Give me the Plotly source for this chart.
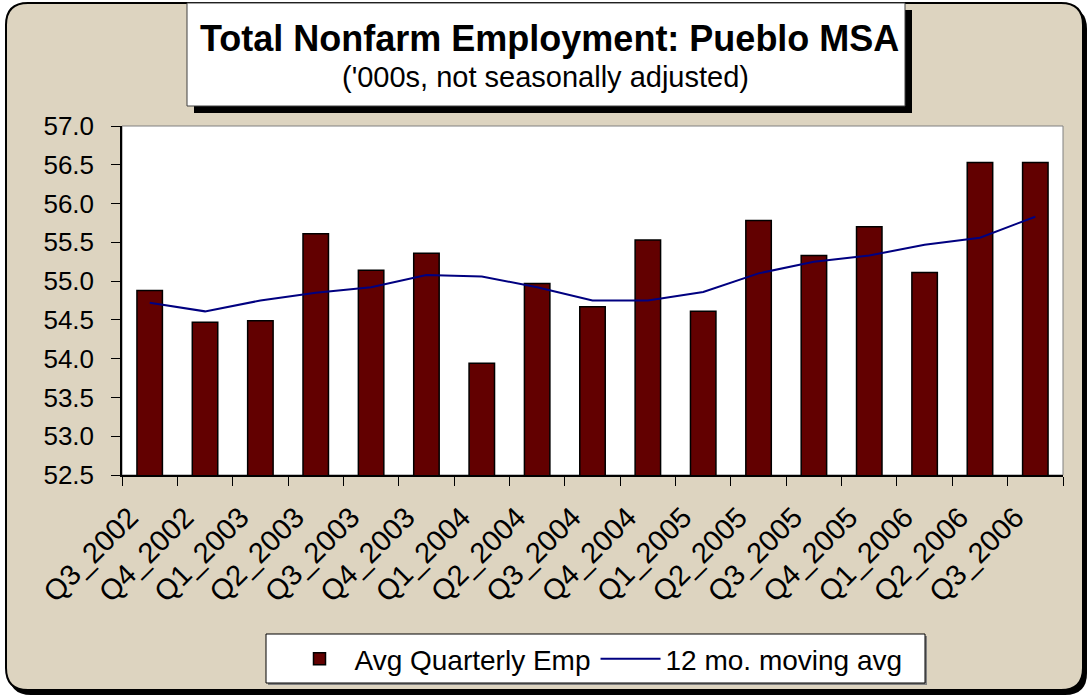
import plotly.graph_objects as go

# ---- data ----
quarters = ["Q3_2002", "Q4_2002", "Q1_2003", "Q2_2003", "Q3_2003", "Q4_2003",
            "Q1_2004", "Q2_2004", "Q3_2004", "Q4_2004", "Q1_2005", "Q2_2005",
            "Q3_2005", "Q4_2005", "Q1_2006", "Q2_2006", "Q3_2006"]
avg_quarterly_emp = [54.88, 54.47, 54.49, 55.61, 55.14, 55.36, 53.94, 54.97,
                     54.67, 55.53, 54.61, 55.78, 55.33, 55.70, 55.11, 56.53, 56.53]
moving_avg_12mo = [54.72, 54.61, 54.75, 54.85, 54.92, 55.08, 55.06, 54.92,
                   54.75, 54.75, 54.86, 55.10, 55.25, 55.33, 55.47, 55.56, 55.83]
y_ticks = [52.5, 53.0, 53.5, 54.0, 54.5, 55.0, 55.5, 56.0, 56.5, 57.0]

W, H = 1088, 696
L, R, T, B = 122, 1063, 126, 475  # plot area in pixels


def px(x):
    return (x - L) / (R - L)


def py(y):
    return (B - y) / (B - T)


def rounded_path(x0, y0, x1, y1, r):
    pts = [
        ("M", [(x0 + r, y0)]),
        ("L", [(x1 - r, y0)]), ("Q", [(x1, y0), (x1, y0 + r)]),
        ("L", [(x1, y1 - r)]), ("Q", [(x1, y1), (x1 - r, y1)]),
        ("L", [(x0 + r, y1)]), ("Q", [(x0, y1), (x0, y1 - r)]),
        ("L", [(x0, y0 + r)]), ("Q", [(x0, y0), (x0 + r, y0)]),
    ]
    s = ""
    for cmd, ps in pts:
        s += cmd + " " + " ".join(f"{px(a):.5f},{py(b):.5f}" for a, b in ps) + " "
    return s + "Z"


FONT = "Arial, 'Liberation Sans', sans-serif"

fig = go.Figure()
fig.add_trace(go.Bar(
    x=quarters, y=avg_quarterly_emp, name="Avg Quarterly Emp",
    marker=dict(color="#620000", line=dict(color="#000000", width=1.5)),
))
fig.add_trace(go.Scatter(
    x=quarters, y=moving_avg_12mo, name="12 mo. moving avg", mode="lines",
    line=dict(color="#000080", width=2),
))

shapes = [
    # frame shadow
    dict(type="path", xref="paper", yref="paper", layer="below",
         path=rounded_path(9, 7, 1087, 695, 22), fillcolor="#000000",
         line=dict(width=0)),
    # frame
    dict(type="path", xref="paper", yref="paper", layer="below",
         path=rounded_path(6, 3, 1083, 690, 22), fillcolor="#ddd4c0",
         line=dict(color="#000000", width=2)),
    # plot area
    dict(type="rect", xref="paper", yref="paper", layer="below",
         x0=0, x1=1, y0=0, y1=1, fillcolor="#ffffff",
         line=dict(color="#808080", width=1)),
    # title shadow
    dict(type="rect", xref="paper", yref="paper", layer="above",
         x0=px(194), x1=px(912), y0=py(113), y1=py(10), fillcolor="#000000",
         line=dict(width=0)),
    # title box
    dict(type="rect", xref="paper", yref="paper", layer="above",
         x0=px(187), x1=px(905), y0=py(106), y1=py(3), fillcolor="#ffffff",
         line=dict(color="#404040", width=1)),
    # legend shadow
    dict(type="rect", xref="paper", yref="paper", layer="below",
         x0=px(268), x1=px(927), y0=py(685), y1=py(636), fillcolor="#808080",
         line=dict(width=0)),
    # legend box
    dict(type="rect", xref="paper", yref="paper", layer="below",
         x0=px(266), x1=px(925), y0=py(683), y1=py(634), fillcolor="#ffffff",
         line=dict(color="#000000", width=1)),
]

annotations = [
    dict(text="<b>Total Nonfarm Employment: Pueblo MSA</b>", xref="paper", yref="paper",
         x=px(549), y=py(38), xanchor="center", yanchor="middle", showarrow=False,
         font=dict(family=FONT, size=36, color="#000000")),
    dict(text="('000s, not seasonally adjusted)", xref="paper", yref="paper",
         x=px(545), y=py(77), xanchor="center", yanchor="middle", showarrow=False,
         font=dict(family=FONT, size=29, color="#000000")),
]

fig.update_layout(
    width=W, height=H,
    margin=dict(l=L, r=W - R, t=T, b=H - B, autoexpand=False),
    paper_bgcolor="#ffffff",
    plot_bgcolor="rgba(0,0,0,0)",
    font=dict(family=FONT, size=26, color="#000000"),
    bargap=0.54,
    shapes=shapes,
    annotations=annotations,
    showlegend=True,
    legend=dict(
        orientation="h", x=px(596), y=py(659), xanchor="center", yanchor="middle",
        bgcolor="rgba(0,0,0,0)", borderwidth=0,
        font=dict(family=FONT, size=28, color="#000000"),
        itemwidth=60, tracegroupgap=0,
    ),
    xaxis=dict(
        type="category", tickangle=-45, showline=True, linecolor="#000000",
        linewidth=1.5, ticks="outside", ticklen=9, tickcolor="#000000",
        tickson="boundaries", showgrid=False, ticklabelstandoff=12,
        ticklabelshift=-20,
        tickfont=dict(family=FONT, size=29),
    ),
    yaxis=dict(
        range=[52.5, 57.0], tickvals=y_ticks, tickformat=".1f", showline=True,
        linecolor="#000000", linewidth=1.5, ticks="outside", ticklen=9,
        tickcolor="#000000", showgrid=False, zeroline=False, ticklabelstandoff=12,
        tickfont=dict(family=FONT, size=26),
    ),
)

fig.write_html("out.html", config={"displayModeBar": False},
               post_script="document.body.style.margin='0';document.body.style.overflow='hidden';")
